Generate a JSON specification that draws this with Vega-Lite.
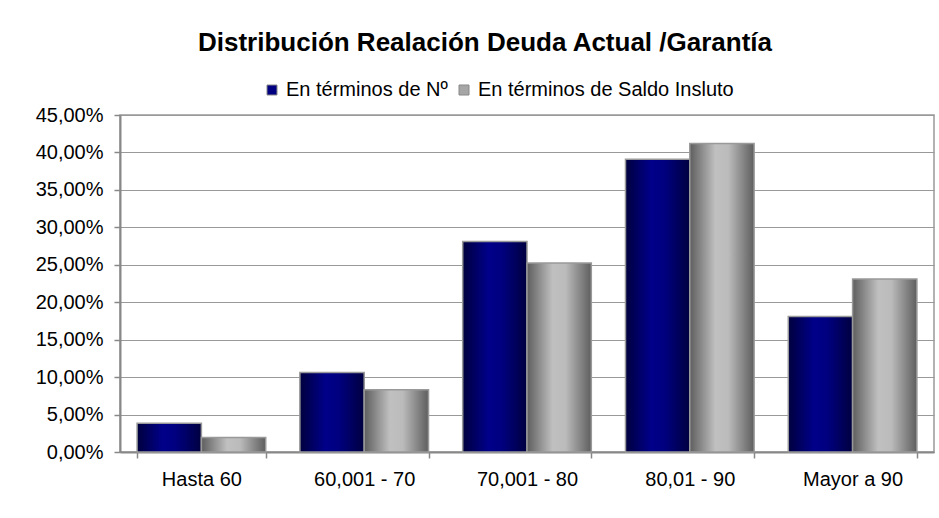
{
  "$schema": "https://vega.github.io/schema/vega-lite/v6.json",
  "autosize": {"type": "none"},
  "width": 814,
  "height": 337,
  "padding": {"left": 120, "top": 115, "right": 5, "bottom": 66},
  "background": "white",
  "title": {
    "text": "Distribución Realación Deuda Actual /Garantía",
    "font": "Liberation Sans",
    "fontSize": 26,
    "fontWeight": "bold",
    "color": "#000000",
    "anchor": "middle",
    "dx": -42,
    "offset": 24
  },
  "config": {
    "locale": {"number": {"decimal": ",", "thousands": ".", "grouping": [3], "currency": ["", " €"]}},
    "font": "Liberation Sans",
    "view": {"stroke": "#999999", "strokeWidth": 1.5}
  },
  "data": {
    "values": [
      {"rango": "Hasta 60", "serie": "En términos de Nº", "valor": 0.0385},
      {"rango": "Hasta 60", "serie": "En términos de Saldo Insluto", "valor": 0.0195},
      {"rango": "60,001 - 70", "serie": "En términos de Nº", "valor": 0.106},
      {"rango": "60,001 - 70", "serie": "En términos de Saldo Insluto", "valor": 0.083},
      {"rango": "70,001 - 80", "serie": "En términos de Nº", "valor": 0.281},
      {"rango": "70,001 - 80", "serie": "En términos de Saldo Insluto", "valor": 0.2525},
      {"rango": "80,01 - 90", "serie": "En términos de Nº", "valor": 0.391},
      {"rango": "80,01 - 90", "serie": "En términos de Saldo Insluto", "valor": 0.412},
      {"rango": "Mayor a 90", "serie": "En términos de Nº", "valor": 0.181},
      {"rango": "Mayor a 90", "serie": "En términos de Saldo Insluto", "valor": 0.231}
    ]
  },
  "encoding": {
    "x": {
      "field": "rango",
      "type": "nominal",
      "sort": ["Hasta 60", "60,001 - 70", "70,001 - 80", "80,01 - 90", "Mayor a 90"],
      "scale": {"paddingInner": 0.21, "paddingOuter": 0.105},
      "axis": {
        "title": null,
        "labelAngle": 0,
        "labelFontSize": 20,
        "labelColor": "#000000",
        "labelPadding": 11,
        "domainColor": "#888888",
        "domainWidth": 2,
        "tickColor": "#888888",
        "tickSize": 6,
        "tickWidth": 1.5,
        "tickBand": "extent",
        "grid": false
      }
    },
    "xOffset": {
      "field": "serie",
      "type": "nominal",
      "scale": {"domain": ["En términos de Nº", "En términos de Saldo Insluto"], "paddingInner": 0, "paddingOuter": 0}
    },
    "y": {
      "field": "valor",
      "type": "quantitative",
      "scale": {"domain": [0, 0.45], "nice": false},
      "axis": {
        "title": null,
        "format": ".2%",
        "values": [0, 0.05, 0.1, 0.15, 0.2, 0.25, 0.3, 0.35, 0.4, 0.45],
        "labelFontSize": 20,
        "labelColor": "#000000",
        "labelPadding": 11,
        "domainColor": "#888888",
        "domainWidth": 2,
        "tickColor": "#888888",
        "tickSize": 6,
        "tickWidth": 1.5,
        "gridColor": "#999999",
        "gridWidth": 1.2
      }
    }
  },
  "layer": [
    {
      "mark": {"type": "bar"},
      "encoding": {
        "color": {
          "field": "serie",
          "type": "nominal",
          "scale": {"domain": ["En términos de Nº", "En términos de Saldo Insluto"], "range": ["#000080", "#A6A6A6"]},
          "legend": {
            "title": null,
            "orient": "none",
            "legendX": 142,
            "legendY": -35,
            "direction": "horizontal",
            "symbolType": "square",
            "symbolSize": 100,
            "symbolStrokeColor": "#888888",
            "symbolStrokeWidth": 1,
            "symbolOpacity": 1,
            "labelFontSize": 20,
            "labelColor": "#000000",
            "labelOffset": 4,
            "columnPadding": 6,
            "labelLimit": 400
          }
        }
      }
    },
    {
      "transform": [{"filter": "datum.serie === 'En términos de Nº'"}],
      "mark": {
        "type": "bar",
        "stroke": "#999999",
        "strokeWidth": 1.5,
        "fill": {
          "gradient": "linear", "x1": 0, "y1": 0, "x2": 1, "y2": 0,
          "stops": [
            {"offset": 0, "color": "#00003E"},
            {"offset": 0.4, "color": "#00008A"},
            {"offset": 0.6, "color": "#000080"},
            {"offset": 1, "color": "#000040"}
          ]
        }
      }
    },
    {
      "transform": [{"filter": "datum.serie === 'En términos de Saldo Insluto'"}],
      "mark": {
        "type": "bar",
        "stroke": "#999999",
        "strokeWidth": 1.5,
        "fill": {
          "gradient": "linear", "x1": 0, "y1": 0, "x2": 1, "y2": 0,
          "stops": [
            {"offset": 0, "color": "#5E5E5E"},
            {"offset": 0.4, "color": "#C0C0C0"},
            {"offset": 0.6, "color": "#BBBBBB"},
            {"offset": 1, "color": "#5E5E5E"}
          ]
        }
      }
    }
  ]
}
